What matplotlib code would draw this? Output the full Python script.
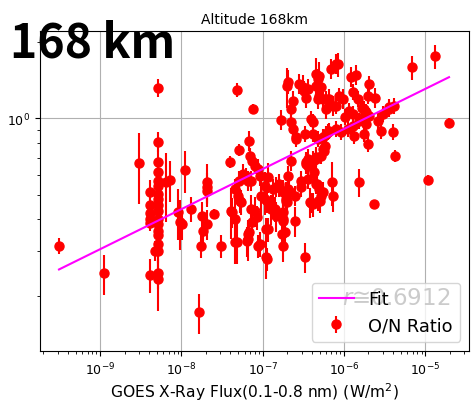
import numpy as np
import matplotlib
matplotlib.use("Agg")
import matplotlib.pyplot as plt

# GOES X-ray flux (W/m^2) and O/N ratio at 168 km, with 1-sigma errors
flux = [
    3.11e-10, 1.11e-9, 2.99e-9,
    4.09e-9, 4.09e-9, 4.09e-9, 4.09e-9, 4.09e-9, 4.09e-9,
    5.21e-9, 5.21e-9, 5.21e-9, 5.21e-9, 5.21e-9, 5.21e-9, 5.21e-9, 5.21e-9,
    5.21e-9, 5.21e-9, 5.21e-9, 5.21e-9, 5.21e-9, 5.21e-9, 5.21e-9, 5.21e-9,
    5.21e-9, 5.21e-9, 4.66e-9,
    6.46e-9, 7.23e-9, 9.08e-9, 9.6e-9, 1.01e-8, 1.10e-8, 1.31e-8, 1.64e-8,
    1.79e-8, 1.84e-8, 1.74e-8, 2.06e-8, 2.06e-8, 2.06e-8, 2.06e-8, 2.51e-8,
    3.06e-8, 3.95e-8, 5.1e-8, 6.76e-8, 4.83e-8, 7.6e-8,
    6.96e-8, 7.39e-8, 8.04e-8, 8.75e-8, 9.27e-8, 6.2e-8, 6.57e-8, 7.16e-8,
    4.54e-8, 4.95e-8, 5.4e-8, 4.06e-8, 4.54e-8, 5.7e-8, 5.1e-8, 7.16e-8,
    8.04e-8, 9.5e-8, 1.06e-7, 1.16e-7, 1.06e-7, 1.26e-7, 1.41e-7, 1.58e-7,
    1.77e-7, 2.04e-7, 1.93e-7, 1.77e-7, 1.88e-7, 4.54e-8, 6.57e-8, 6.76e-8,
    9.27e-8, 1.09e-7, 1.45e-7, 2.49e-7, 3.81e-7, 3.31e-7, 1.09e-7, 4.17e-8,
    4.83e-8, 5.25e-8, 6.38e-8, 6.57e-8, 7.39e-8, 8.5e-8, 8.75e-8, 1.13e-7,
    1.16e-7, 1.13e-7, 1.34e-7, 1.72e-7, 1.77e-7, 1.99e-7, 2.04e-7,
    4.15e-7, 4.65e-7, 5.05e-7, 5.5e-7, 7.13e-7, 7.3e-7, 2.95e-7, 2.95e-7,
    2.49e-7, 2.22e-7, 2.04e-7, 2.1e-7, 1.93e-7, 1.77e-7, 1.77e-7, 1.58e-7,
    1.45e-7, 1.34e-7, 3.4e-7, 3.6e-7, 4.52e-7, 4.27e-7, 4.52e-7, 5.66e-7,
    5.83e-7, 6.35e-7, 2.56e-7, 3.4e-7, 3.6e-7, 4.15e-7, 4.52e-7, 3.6e-7,
    3.9e-7, 4.76e-7, 5.2e-7,
    2.33e-6, 1.53e-6, 4.24e-6, 1.08e-5, 1.96e-5,
    1.67e-7, 1.99e-7, 2.04e-7, 2.22e-7, 2.35e-7, 2.79e-7, 3.12e-7, 3.21e-7,
    3.4e-7, 3.6e-7, 4.52e-7, 4.76e-7, 4.9e-7, 5.2e-7, 4.76e-7, 5.5e-7,
    4.52e-7, 6.0e-7, 6.55e-7, 7.3e-7, 6.9e-7, 7.97e-7, 8.4e-7, 9.73e-7,
    1.22e-6, 1.40e-6, 1.29e-6, 1.48e-6, 1.76e-6, 2.03e-6, 1.97e-6, 2.4e-6,
    3.57e-6, 4.12e-6, 6.87e-6, 1.32e-5,
    2.22e-7, 2.35e-7, 2.56e-7, 3.31e-7, 3.9e-7, 4.15e-7, 4.15e-7, 4.9e-7,
    6.0e-7, 6.55e-7, 7.97e-7, 8.65e-7, 1.15e-6, 1.29e-6, 1.03e-6, 1.86e-6,
    2.03e-6, 1.71e-6, 3.57e-6, 3.02e-6, 2.62e-6, 2.85e-6, 4.0e-6, 1.86e-6,
    1.76e-6, 1.97e-6, 1.33e-6, 1.53e-6, 1.29e-6, 1.12e-6, 9.1e-7, 7.97e-7,
    6.55e-7, 6.0e-7, 5.5e-7, 4.76e-7, 5.5e-7, 5.2e-7, 4.9e-7, 1.66e-6,
]

on_ratio = [
    0.315, 0.246, 0.668,
    0.514, 0.457, 0.425, 0.402, 0.388, 0.242,
    1.316, 0.807, 0.674, 0.615, 0.567, 0.542, 0.504, 0.482,
    0.457, 0.433, 0.402, 0.384, 0.361, 0.348, 0.321, 0.302,
    0.246, 0.234, 0.302,
    0.562, 0.573, 0.429, 0.391, 0.384, 0.626, 0.440, 0.173,
    0.413, 0.361, 0.315, 0.384, 0.562, 0.537, 0.518, 0.421,
    0.315, 0.674, 0.751, 0.814, 1.292, 1.088,
    0.711, 0.680, 0.649, 0.632, 0.593, 0.593, 0.567, 0.567,
    0.527, 0.495, 0.469, 0.433, 0.402, 0.604, 0.567, 0.440,
    0.433, 0.495, 0.482, 0.588, 0.542, 0.440, 0.440, 0.537,
    0.514, 0.527, 0.474, 0.395, 0.358, 0.327, 0.336, 0.358,
    0.321, 0.367, 0.413, 0.395, 0.469, 0.285, 0.285, 0.429,
    0.327, 0.474, 0.330, 0.351, 0.391, 0.409, 0.315, 0.474,
    0.367, 0.280, 0.440, 0.351, 0.315, 0.469, 0.514,
    0.460, 0.552, 0.474, 0.514, 0.562, 0.495, 0.567, 0.537,
    0.495, 0.680, 0.593, 0.518, 0.482, 0.429, 0.402, 0.552,
    0.537, 0.527, 0.674, 0.649, 0.692, 0.615, 0.552, 0.744,
    0.778, 0.884, 0.829, 0.661, 0.692, 0.680, 0.705, 0.578,
    0.465, 0.474, 0.495,
    0.460, 0.562, 0.711, 0.573, 0.958,
    0.985, 1.339, 1.389, 1.088, 1.169, 1.364, 1.327, 1.280,
    1.202, 1.303, 1.493, 1.427, 1.466, 1.327, 1.191, 1.191,
    1.339, 1.088, 1.191, 1.118, 1.562, 1.634, 1.634, 1.191,
    1.452, 1.479, 1.269, 1.191, 1.088, 1.364, 1.224, 1.202,
    1.088, 1.118, 1.590, 1.757,
    0.967, 0.908, 0.845, 0.868, 0.994, 0.967, 0.868, 1.224,
    1.191, 1.159, 1.118, 1.224, 1.068, 1.040, 1.012, 1.059,
    1.021, 1.012, 1.107, 1.040, 0.976, 0.891, 0.884, 0.950,
    0.868, 0.793, 0.852, 0.976, 0.933, 0.908, 0.884, 0.908,
    0.891, 0.868, 0.845, 0.829, 0.758, 0.711, 0.527, 1.098,
]

on_ratio_err = [
    0.023, 0.044, 0.21,
    0.060, 0.050, 0.038, 0.036, 0.028, 0.037,
    0.107, 0.073, 0.073, 0.056, 0.062, 0.049, 0.046, 0.052,
    0.041, 0.047, 0.036, 0.035, 0.039, 0.031, 0.029, 0.033,
    0.033, 0.059, 0.027,
    0.17, 0.104, 0.097, 0.088, 0.052, 0.119, 0.048, 0.031,
    0.056, 0.039, 0.034, 0.052, 0.10, 0.073, 0.07, 0.019,
    0.034, 0.037, 0.041, 0.074, 0.082, 0.049,
    0.051, 0.049, 0.047, 0.057, 0.054, 0.043, 0.051, 0.051,
    0.048, 0.045, 0.051, 0.098, 0.073, 0.055, 0.051, 0.060,
    0.059, 0.089, 0.065, 0.080, 0.073, 0.060, 0.048, 0.049,
    0.056, 0.057, 0.086, 0.071, 0.049, 0.059, 0.061, 0.039,
    0.035, 0.040, 0.056, 0.054, 0.064, 0.039, 0.052, 0.058,
    0.059, 0.051, 0.045, 0.038, 0.042, 0.044, 0.034, 0.051,
    0.040, 0.030, 0.040, 0.038, 0.043, 0.051, 0.046,
    0.050, 0.050, 0.051, 0.046, 0.112, 0.067, 0.051, 0.049,
    0.045, 0.061, 0.054, 0.047, 0.044, 0.039, 0.036, 0.050,
    0.049, 0.048, 0.061, 0.059, 0.063, 0.083, 0.050, 0.054,
    0.056, 0.064, 0.060, 0.060, 0.063, 0.061, 0.064, 0.052,
    0.042, 0.043, 0.045,
    0.017, 0.071, 0.039, 0.026, 0.043,
    0.089, 0.24, 0.15, 0.098, 0.106, 0.123, 0.144, 0.116,
    0.109, 0.118, 0.23, 0.129, 0.199, 0.12, 0.108, 0.108,
    0.121, 0.098, 0.108, 0.101, 0.141, 0.148, 0.177, 0.108,
    0.131, 0.134, 0.092, 0.086, 0.079, 0.099, 0.089, 0.109,
    0.079, 0.081, 0.172, 0.19,
    0.070, 0.066, 0.061, 0.063, 0.072, 0.070, 0.063, 0.089,
    0.086, 0.084, 0.081, 0.089, 0.077, 0.075, 0.073, 0.077,
    0.074, 0.073, 0.080, 0.075, 0.071, 0.064, 0.064, 0.069,
    0.063, 0.057, 0.062, 0.071, 0.067, 0.066, 0.064, 0.066,
    0.064, 0.063, 0.061, 0.060, 0.055, 0.051, 0.038, 0.08,
]

# power-law fit in log-log space: log10(ratio) = fit_intercept + fit_slope * log10(flux)
fit_slope = 0.1574
fit_intercept = 0.902
corr_r = 0.6912

altitude_km = 168

fig = plt.figure(figsize=(4.72, 4.02), dpi=100)
ax = fig.add_axes([0.0841, 0.1251, 0.9095, 0.7953])

flux_arr = np.asarray(flux)
fit_x = np.array([flux_arr.min(), flux_arr.max()])
fit_y = 10 ** (fit_intercept + fit_slope * np.log10(fit_x))

ax.plot(fit_x, fit_y, color="magenta", lw=1.5, label="Fit", zorder=3)
ax.errorbar(flux, on_ratio, yerr=on_ratio_err, fmt="o", color="red",
            ms=6.5, elinewidth=1.5, label="O/N Ratio", zorder=2)

ax.set_xscale("log")
ax.set_yscale("log")
ax.set_xlim(1.8e-10, 3.45e-5)
ax.set_ylim(0.122, 2.2)
ax.grid(True, which="major", color="#b0b0b0", lw=0.8)
ax.tick_params(labelsize=9)

ax.set_title(f"Altitude {altitude_km}km", fontsize=10)
ax.set_xlabel("GOES X-Ray Flux(0.1-0.8 nm) (W/m$^2$)", fontsize=11.2, labelpad=2)
ax.set_ylabel("O/N Ratio", fontsize=11.2)

ax.text(0.704, 0.146, rf"$r$≅{corr_r}", transform=ax.transAxes,
        fontsize=16.5, ha="left", va="baseline", color="black", zorder=4)
leg = ax.legend(loc="lower right", fontsize=12.8)
leg.set_zorder(10)

fig.text(10 / 472, 1 - 57.3 / 402, f"{altitude_km} km", fontsize=33.4,
         family=["Noto Sans CJK JP", "DejaVu Sans"], weight="bold",
         va="baseline", ha="left")

fig.savefig("out.png", dpi=100)
